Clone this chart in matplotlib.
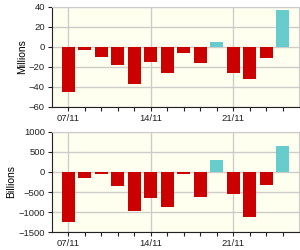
import matplotlib.pyplot as plt
import numpy as np

# trading days, Nov 2011
days = ["07/11", "08/11", "09/11", "10/11", "11/11",
        "14/11", "15/11", "16/11", "17/11", "18/11",
        "21/11", "22/11", "23/11", "24/11"]
millions = [-45, -3, -10, -18, -37, -14.5, -26, -5.5, -16, 5, -26, -32, -11, 37]
billions = [-1250, -150, -50, -360, -960, -650, -870, -40, -620, 300, -555, -1120, -330, 640]

red = "#cc0000"
cyan = "#66cccc"
bg = "#fffff0"
grid = "#cccccc"

plt.rcParams['font.family'] = ['Liberation Sans', 'DejaVu Sans']

fig = plt.figure(figsize=(3, 2.5), dpi=100)
ax1 = fig.add_axes([0.173, 0.572, 0.824, 0.400])
ax2 = fig.add_axes([0.173, 0.071, 0.824, 0.402])

x = np.arange(len(days))


def draw(ax, vals, ylim, ystep, label, labelpad):
    cols = [cyan if v > 0 else red for v in vals]
    ax.bar(x, vals, width=0.78, color=cols, zorder=3)
    ax.set_facecolor(bg)
    ax.set_xlim(-1, len(days))
    ax.set_ylim(*ylim)
    ax.set_yticks(np.arange(ylim[0], ylim[1] + 1, ystep))
    ax.set_xticks(x[::5])
    ax.set_xticklabels([days[i] for i in x[::5]])
    ax.set_xticks(x, minor=True)
    ax.grid(True, color=grid, linewidth=1, zorder=0)
    ax.tick_params(axis='both', which='both', length=3, width=0.8,
                   labelsize=6.8, colors="#222222", pad=2)
    for s in ["top", "right"]:
        ax.spines[s].set_color(grid)
    for s in ["left", "bottom"]:
        ax.spines[s].set_color("#222222")
    ax.set_ylabel(label, fontsize=7.5, labelpad=labelpad)


draw(ax1, millions, (-60, 40), 20, "Millions", 1.5)
draw(ax2, billions, (-1500, 1000), 500, "Billions", 2)

fig.savefig("out.png", dpi=100)
